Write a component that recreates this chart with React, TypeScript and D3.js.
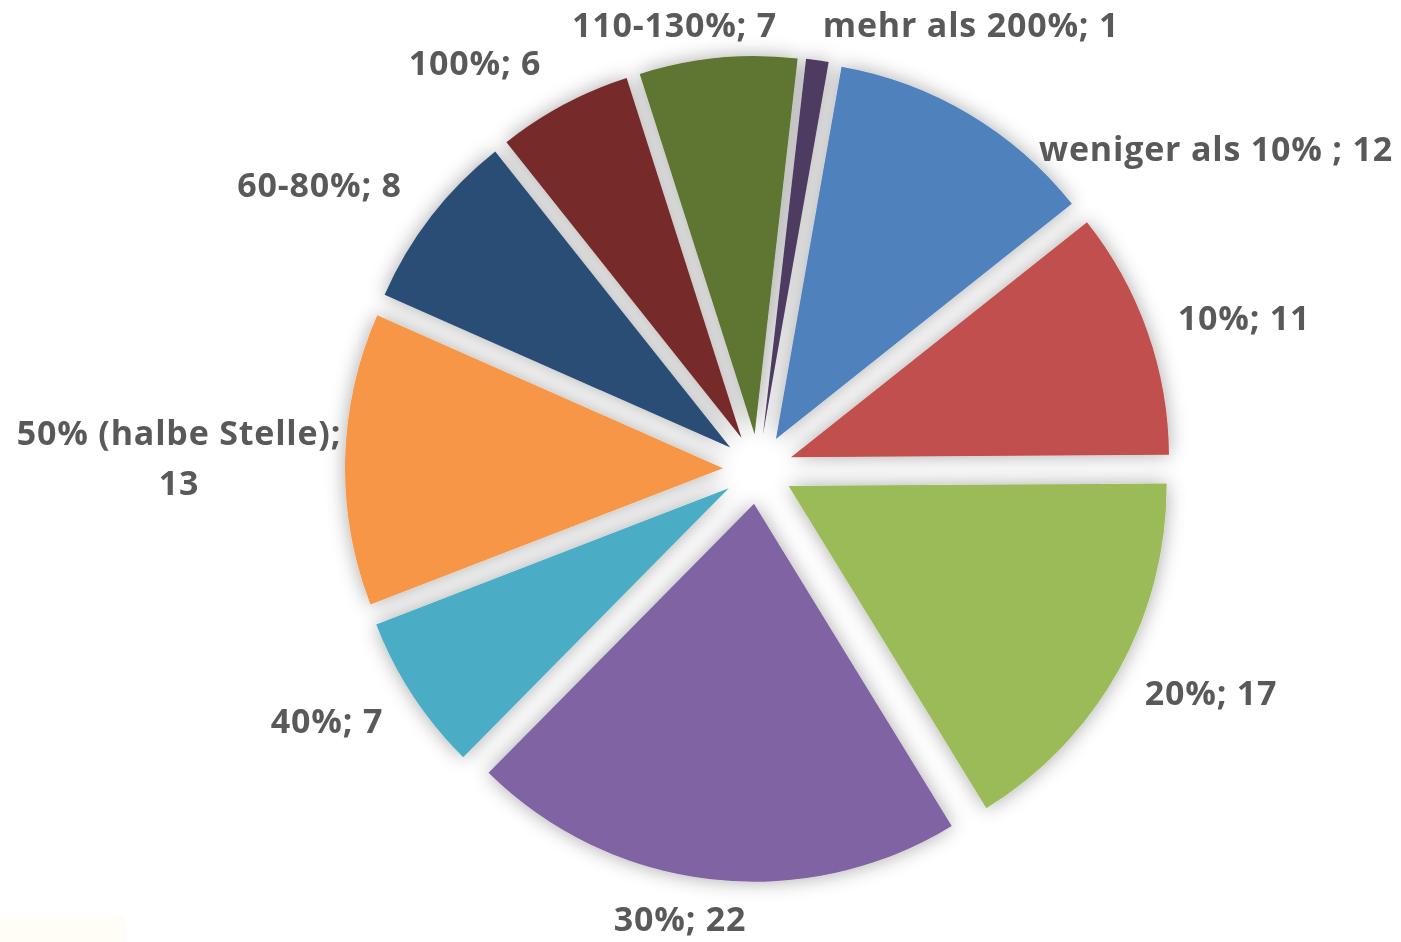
import React from "react";
import * as d3 from "d3";

// ---- data ----
const categories: string[] = [
  "weniger als 10% ",
  "10%",
  "20%",
  "30%",
  "40%",
  "50% (halbe Stelle)",
  "60-80%",
  "100%",
  "110-130%",
  "mehr als 200%",
];
const values: number[] = [12, 11, 17, 22, 7, 13, 8, 6, 7, 1];
const colors: string[] = [
  "#4F81BD",
  "#C0504D",
  "#9BBB59",
  "#8064A2",
  "#4BACC6",
  "#F79646",
  "#2C4D75",
  "#772C2A",
  "#5F7530",
  "#4D3B62",
];

// ---- layout (label positions: centre x, baseline y) ----
const labelPos: [number, number][] = [
  [1216, 161],
  [1244, 330],
  [1211, 705],
  [680, 931],
  [327, 733],
  [179, 445],
  [319.5, 197],
  [475, 75],
  [674.5, 37],
  [971, 37],
];

const W = 1401;
const H = 942;
const CX = 758;
const CY = 469;
const R = 378;
const EXPLODE = 35;
const FIRST_ANGLE_DEG = 10;

export default function App() {
  const start = (FIRST_ANGLE_DEG * Math.PI) / 180;
  const pie = d3
    .pie<number>()
    .sort(null)
    .value((d) => d)
    .startAngle(start)
    .endAngle(start + 2 * Math.PI);
  const arcs = pie(values);
  const arc = d3.arc<d3.PieArcDatum<number>>().innerRadius(0).outerRadius(R);

  return (
    <svg
      width={W}
      height={H}
      style={{ position: "absolute", left: 0, top: 0, background: "#ffffff" }}
    >
      <defs>
        <filter id="sh" x="-20%" y="-20%" width="140%" height="140%">
          <feGaussianBlur in="SourceAlpha" stdDeviation="10" result="b" />
          <feComponentTransfer in="b" result="s">
            <feFuncA type="linear" slope="0.34" />
          </feComponentTransfer>
          <feMerge>
            <feMergeNode in="s" />
            <feMergeNode in="SourceGraphic" />
          </feMerge>
        </filter>
      </defs>
      <rect x={0} y={915} width={125} height={27} fill="#FFFDF6" />
      <g filter="url(#sh)">
        {arcs.map((a, i) => {
          const m = (a.startAngle + a.endAngle) / 2;
          const dx = CX + Math.sin(m) * EXPLODE;
          const dy = CY - Math.cos(m) * EXPLODE;
          return (
            <path
              key={i}
              d={arc(a) || ""}
              transform={`translate(${dx},${dy})`}
              fill={colors[i]}
            />
          );
        })}
      </g>
      <g
        fontFamily="'Open Sans', Lato, sans-serif"
        fontWeight={700}
        fontSize={34}
        letterSpacing={0.8}
        fill="#595959"
        textAnchor="middle"
      >
        {categories.map((c, i) => {
          const [x, y] = labelPos[i];
          if (i === 5) {
            return (
              <text key={i} x={x} y={y}>
                <tspan x={x} y={y}>{`${c};`}</tspan>
                <tspan x={x} y={y + 50}>{`${values[i]}`}</tspan>
              </text>
            );
          }
          return (
            <text key={i} x={x} y={y}>
              {`${c}; ${values[i]}`}
            </text>
          );
        })}
      </g>
    </svg>
  );
}
